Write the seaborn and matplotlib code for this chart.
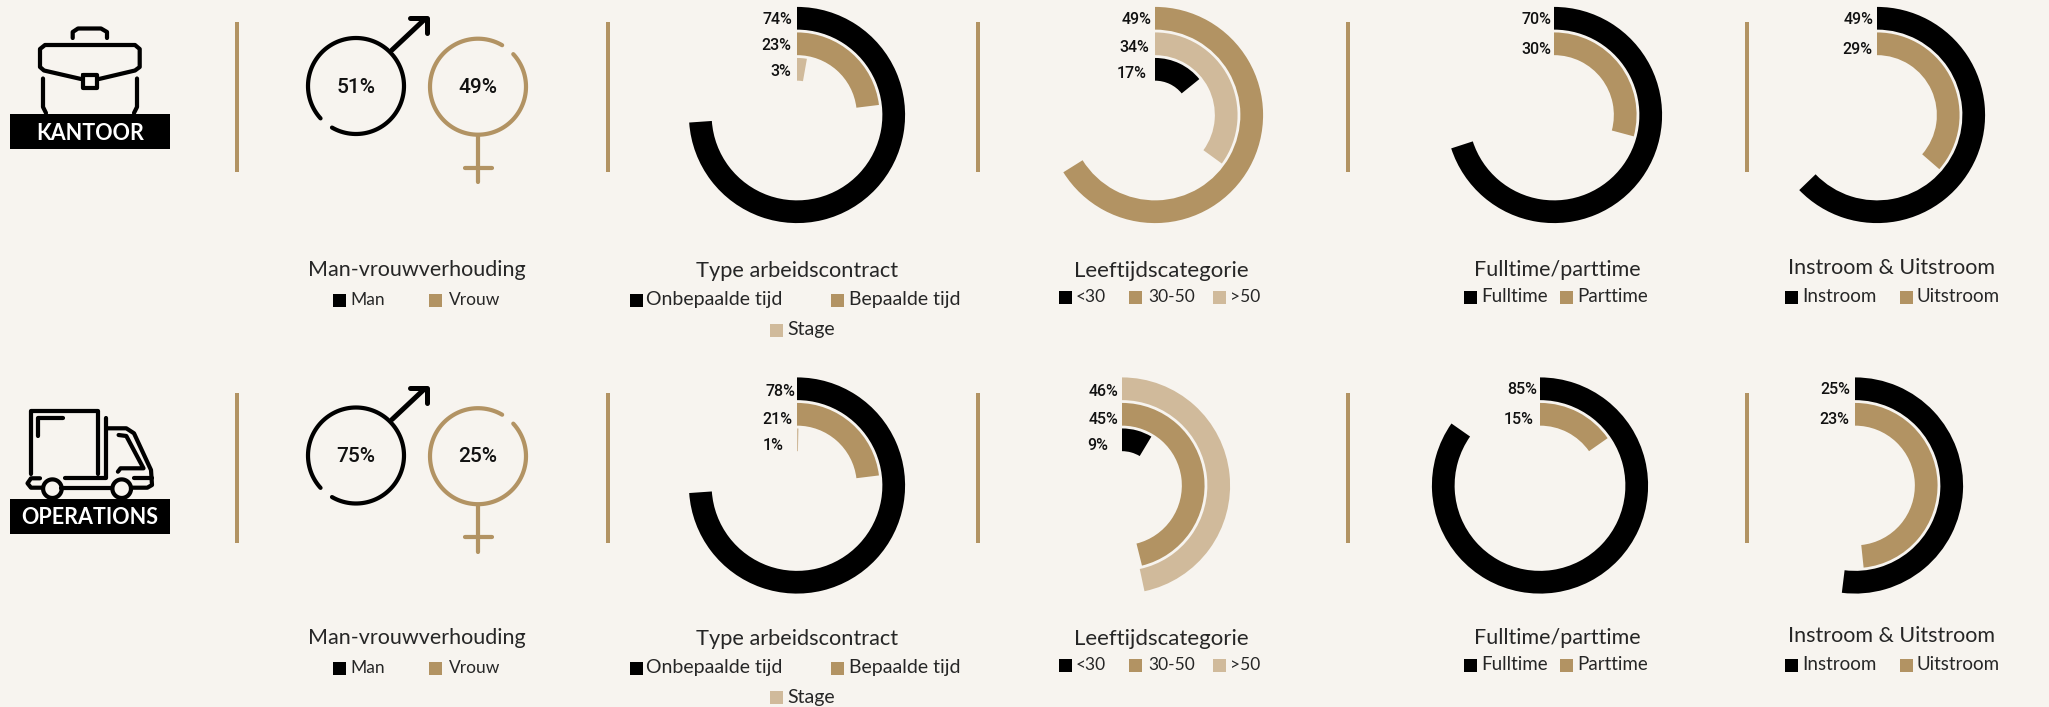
import numpy as np
import pandas as pd
import seaborn as sns
import matplotlib
matplotlib.use('Agg')
import matplotlib.pyplot as plt
from matplotlib.patches import Rectangle

BG = '#F7F4EF'
BLACK = '#000000'
GOLD = '#B29363'
SAND = '#D0BA9B'
INK = '#262626'

sns.set_theme(style='white', rc={'figure.facecolor': BG, 'savefig.facecolor': BG})
TITLE_FONT = ['Lato', 'DejaVu Sans']
NUMBER_FONT = ['Roboto', 'DejaVu Sans']

# rings listed outer to inner: names, printed percentages, drawn sweep in degrees
contract_names = ['Onbepaalde tijd', 'Bepaalde tijd', 'Stage']
kantoor_contract_pct = [74, 23, 3]
kantoor_contract_sweep = [266, 83, 10]
operations_contract_pct = [78, 21, 1]
operations_contract_sweep = [266, 83, 1.5]

kantoor_age_names = ['30-50', '>50', '<30']
kantoor_age_pct = [49, 34, 17]
kantoor_age_sweep = [238, 126, 51]
operations_age_names = ['>50', '30-50', '<30']
operations_age_pct = [46, 45, 9]
operations_age_sweep = [168, 166, 31]

time_names = ['Fulltime', 'Parttime']
kantoor_time_pct = [70, 30]
kantoor_time_sweep = [252, 105]
operations_time_pct = [85, 15]
operations_time_sweep = [305, 55]

flow_names = ['Instroom', 'Uitstroom']
kantoor_flow_pct = [49, 29]
kantoor_flow_sweep = [226, 131]
operations_flow_pct = [25, 23]
operations_flow_sweep = [187, 174]

kantoor_gender_pct = [51, 49]
operations_gender_pct = [75, 25]

series_colors = {
    'Onbepaalde tijd': BLACK, 'Bepaalde tijd': GOLD, 'Stage': SAND,
    '<30': BLACK, '30-50': GOLD, '>50': SAND,
    'Fulltime': BLACK, 'Parttime': GOLD,
    'Instroom': BLACK, 'Uitstroom': GOLD,
}

fig = plt.figure(figsize=(20.49, 7.07), dpi=100)
page = fig.add_axes([0, 0, 1, 1])
page.set_xlim(0, 2049)
page.set_ylim(707, 0)
page.axis('off')


def px(width):
    return width * 0.72


def stroke(xs, ys, color=BLACK, width=4.2):
    page.plot(xs, ys, color=color, lw=px(width), solid_capstyle='round', solid_joinstyle='round')


def ring_chart(names, pct, sweep, cx, cy, label_rights, label_ys):
    df = pd.DataFrame({'name': names, 'sweep': np.deg2rad(sweep)})
    ax = fig.add_axes([(cx - 110) / 2049, 1 - (cy + 110) / 707, 220 / 2049, 220 / 707], projection='polar')
    sns.barplot(data=df, x='sweep', y='name', hue='name', order=names, hue_order=names, dodge=False,
                palette=series_colors, width=0.89, saturation=1, errorbar=None, legend=False,
                orient='h', linewidth=0, ax=ax)
    ax.set_theta_zero_location('N')
    ax.set_theta_direction(-1)
    ax.set_xlim(0, 2 * np.pi)
    ax.set_ylim(3.79, -0.52)
    ax.patch.set_alpha(0)
    ax.set_axis_off()
    for value, right, y in zip(pct, label_rights, label_ys):
        page.text(right, y + 1, f'{value}%', ha='right', va='center', fontsize=11.5,
                  family=NUMBER_FONT, weight='medium', color='#111111')


def titled_legend(title, tx, ty, items, size=12.5, title_size=15.5):
    page.text(tx, ty, title, ha='center', va='center', fontsize=title_size, family=TITLE_FONT, color=INK)
    for name, color, sx, tx2, ly in items:
        page.add_patch(Rectangle((sx, ly - 6.5), 13, 13, facecolor=color, edgecolor='none'))
        page.text(tx2, ly, name, ha='left', va='center', fontsize=size, family=TITLE_FONT, color=INK)


def gender_icons(dy, pct):
    t = np.deg2rad(np.linspace(137.6, 480, 120))
    stroke(356 + 48 * np.cos(t), 86 + dy + 48 * np.sin(t))
    stroke([392, 425], [50 + dy, 19 + dy], width=5)
    stroke([410, 426.5, 426.5], [18 + dy, 18 + dy, 33 + dy], width=5)
    t = np.deg2rad(np.linspace(-42.7, 300.2, 120))
    stroke(478 + 48 * np.cos(t), 86.7 + dy + 48 * np.sin(t), color=GOLD)
    stroke([478, 478], [136 + dy, 182 + dy], color=GOLD)
    stroke([465, 492], [167.5 + dy, 167.5 + dy], color=GOLD)
    for x, value in zip([356, 478], pct):
        page.text(x, 87.5 + dy, f'{value}%', ha='center', va='center', fontsize=15, family=NUMBER_FONT,
                  weight='medium', color='#111111')


def dividers(xs, y0, y1):
    for x in xs:
        page.plot([x, x], [y0, y1], color=GOLD, lw=px(4), solid_capstyle='butt')


def badge(text, y0, y1):
    page.add_patch(Rectangle((10, y0), 160, y1 - y0, facecolor=BLACK, edgecolor='none', zorder=3))
    page.text(90, (y0 + y1) / 2 + 1.5, text, ha='center', va='center', color='white', fontsize=15.5,
              family=TITLE_FONT, weight='bold', zorder=4)


# briefcase
stroke([72.7, 72.7, 78, 101, 107, 107], [38, 32, 28.5, 28.5, 32, 38])
stroke([81, 44, 40, 40, 45, 135, 139.7, 139.7, 135, 99], [79, 70.5, 67, 49, 45, 45, 49, 67, 70.5, 79])
stroke([83, 97, 97, 83, 83], [75, 75, 88, 88, 75])
stroke([43, 43, 46], [78.5, 107, 113])
stroke([137, 137, 134], [78.5, 107, 113])
badge('KANTOOR', 114, 149)

# truck
stroke([30.6, 30.6, 97.6, 97.6], [474, 410.7, 410.7, 474])
stroke([37.5, 37.5, 63], [436, 418.3, 418.3])
stroke([106.4, 106.4, 65], [418.3, 478.3, 478.3])
stroke([40, 31, 27.5, 31, 43], [478.3, 478.3, 483.3, 487.7, 487.7])
stroke([106.4, 126.3, 134, 151, 152, 147.3, 132], [428.3, 428.3, 433.3, 470, 485, 487.7, 487.7])
stroke([61, 111], [487.7, 487.7])
stroke([118.6, 126.3, 143.5, 120.5, 117.9], [435, 436, 468.3, 468.3, 471.7])
stroke([134, 152], [478.3, 478.3])
t = np.linspace(0, 2 * np.pi, 60)
for wheel_x in [52.4, 121.7]:
    stroke(wheel_x + 9.3 * np.cos(t), 488.7 + 9.3 * np.sin(t))
badge('OPERATIONS', 499, 533.7)

dividers([237, 607.6, 978, 1348, 1747], 22, 172)
dividers([237, 607.6, 978, 1348, 1747], 393, 543)

gender_icons(0, kantoor_gender_pct)
gender_icons(369.5, operations_gender_pct)

ring_chart(contract_names, kantoor_contract_pct, kantoor_contract_sweep, 797, 115, [792, 791.5, 791.5], [18, 45, 71])
ring_chart(kantoor_age_names, kantoor_age_pct, kantoor_age_sweep, 1155, 115, [1151, 1149, 1147], [18, 47, 73])
ring_chart(time_names, kantoor_time_pct, kantoor_time_sweep, 1554, 115, [1551, 1551], [18, 48])
ring_chart(flow_names, kantoor_flow_pct, kantoor_flow_sweep, 1877, 115, [1874, 1872], [18, 48])

ring_chart(contract_names, operations_contract_pct, operations_contract_sweep, 797, 485.5, [795, 792, 784], [390, 418, 444])
ring_chart(operations_age_names, operations_age_pct, operations_age_sweep, 1122, 485.5, [1118, 1118, 1108.5], [390, 418, 444])
ring_chart(time_names, operations_time_pct, operations_time_sweep, 1540, 485.5, [1537, 1534], [389, 418])
ring_chart(flow_names, operations_flow_pct, operations_flow_sweep, 1855, 485.5, [1850, 1849.5], [388, 418])

for title_y, l1, l2, age_y, flow_t in [(270, 300, 330, 297, 268), (638, 668, 697, 665, 636)]:
    titled_legend('Man-vrouwverhouding', 417, title_y, [('Man', BLACK, 333, 350.5, l1), ('Vrouw', GOLD, 429, 448.5, l1)])
    titled_legend('Type arbeidscontract', 797, title_y + 1,
                  [('Onbepaalde tijd', BLACK, 630, 646, l1), ('Bepaalde tijd', GOLD, 831, 849, l1), ('Stage', SAND, 770, 787, l2)],
                  size=14, title_size=15.7)
    titled_legend('Leeftijdscategorie', 1161, title_y + 1,
                  [('<30', BLACK, 1059, 1076, age_y), ('30-50', GOLD, 1129, 1148, age_y), ('>50', SAND, 1213, 1230, age_y)],
                  size=12.5, title_size=16)
    titled_legend('Fulltime/parttime', 1557, title_y,
                  [('Fulltime', BLACK, 1464, 1481.5, age_y), ('Parttime', GOLD, 1560, 1577.6, age_y)], size=13.5)
    titled_legend('Instroom & Uitstroom', 1892, flow_t,
                  [('Instroom', BLACK, 1785, 1802, age_y), ('Uitstroom', GOLD, 1900, 1916, age_y)], size=13.5)

fig.savefig('out.png', dpi=100, facecolor=BG)
